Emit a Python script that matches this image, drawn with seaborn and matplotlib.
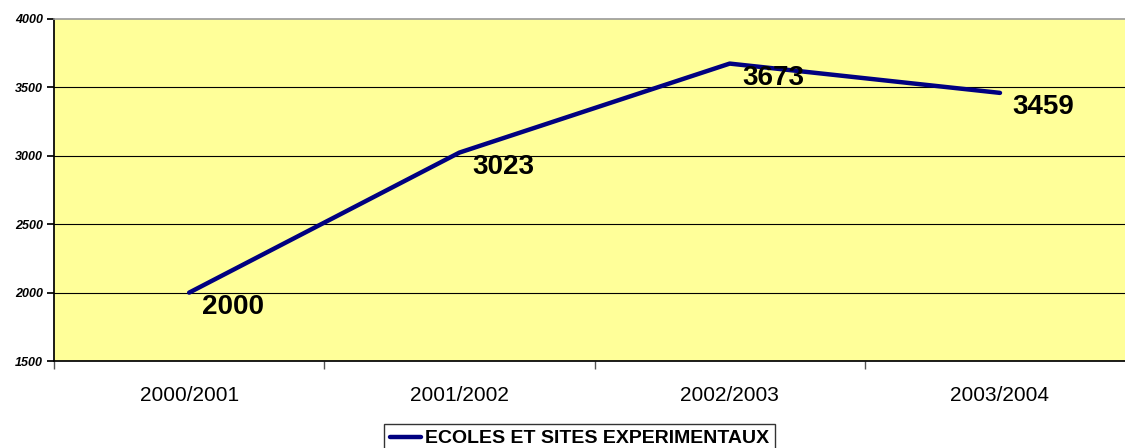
import matplotlib
matplotlib.use('Agg')
import matplotlib.pyplot as plt
import seaborn as sns
import pandas as pd
import numpy as np

# data
seasons = ['2000/2001', '2001/2002', '2002/2003', '2003/2004']
effectifs = [2000, 3023, 3673, 3459]
series_name = 'ECOLES ET SITES EXPERIMENTAUX'
y_ticks = [1500, 2000, 2500, 3000, 3500, 4000]

sns.set_theme(style='white')
plt.rcParams['font.family'] = ['Liberation Sans', 'DejaVu Sans']
plt.rcParams['text.color'] = 'black'
plt.rcParams['xtick.color'] = 'black'
plt.rcParams['ytick.color'] = 'black'

df = pd.DataFrame({'pos': np.arange(len(seasons)) + 0.5,
                   'value': effectifs,
                   'serie': series_name})

fig = plt.figure(figsize=(11.25, 4.48), dpi=100)
# plot area runs a little past the right edge, like the original
ax = fig.add_axes([0.048, 0.194, 0.961, 0.764])
ax.set_facecolor('#FFFF99')

sns.lineplot(data=df, x='pos', y='value', hue='serie', palette=['#000080'],
             linewidth=3.2, ax=ax, zorder=3)

ax.set_xlim(0, len(seasons))
ax.set_ylim(y_ticks[0], y_ticks[-1])
ax.set_yticks(y_ticks)
ax.set_yticklabels([str(t) for t in y_ticks], fontsize=9, fontstyle='italic', fontweight='bold')
for t in y_ticks[1:-1]:
    ax.axhline(t, color='black', linewidth=0.8, zorder=1)

# category boundaries as ticks, labels at centres
ax.set_xticks(np.arange(len(seasons) + 1))
ax.set_xticklabels([])
ax.set_xticks(np.arange(len(seasons)) + 0.5, minor=True)
ax.set_xticklabels(seasons, minor=True, fontsize=15)
ax.tick_params(axis='x', which='minor', length=0, pad=18)
ax.tick_params(axis='x', which='major', length=6, width=1, direction='out', bottom=True, color='#555555')
ax.tick_params(axis='y', length=5, direction='out', left=True, color='black', pad=3)
ax.set_xlabel('')
ax.set_ylabel('')

ax.spines['right'].set_visible(False)
ax.spines['top'].set_color('#999999')
ax.spines['top'].set_linewidth(1.2)
ax.spines['left'].set_color('black')
ax.spines['bottom'].set_color('black')

for x, v in zip(df['pos'], effectifs):
    ax.annotate(str(v), (x, v), xytext=(9, -1), textcoords='offset points',
                ha='left', va='top', fontsize=20, fontweight='bold', zorder=4)

handles, labels = ax.get_legend_handles_labels()
ax.legend(handles, labels, loc='upper center', bbox_to_anchor=(0.515, 1 - 424 / 448),
          bbox_transform=fig.transFigure,
          frameon=True, fancybox=False, edgecolor='#333333', framealpha=1,
          prop={'weight': 'bold', 'size': 14}, handlelength=1.6, handletextpad=0.2,
          borderpad=0.3, borderaxespad=0)

fig.savefig('out.png', dpi=100, facecolor='white')
